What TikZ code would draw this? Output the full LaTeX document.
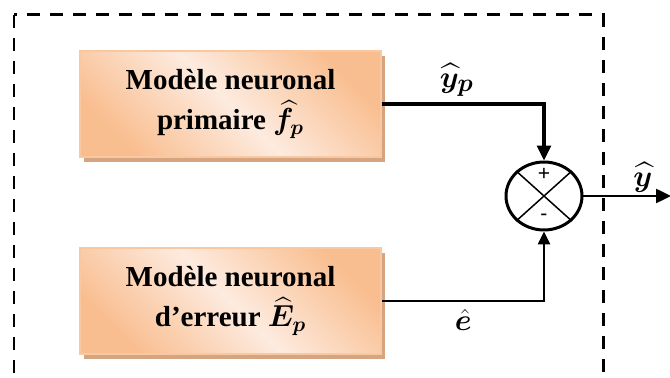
\documentclass[tikz,border=0pt]{standalone}
\usepackage{amsmath, amssymb, bm}
\usepackage{fontspec}
\setmainfont{Liberation Serif}
\setsansfont{Liberation Sans}
\usepackage{xcolor}
\usepackage{tikz}
\usetikzlibrary{positioning, arrows.meta, shapes.geometric, shadows}
\definecolor{peachdark}{HTML}{F9BE90}
\definecolor{peachlight}{HTML}{FDEBDF}
\definecolor{peachedge}{HTML}{F9C8A0}
\definecolor{boxshadow}{HTML}{D5A480}

\begin{document}
\begin{tikzpicture}[
    x=0.02cm, y=-0.02cm,
    >={Triangle[length=0.3cm, width=0.28cm]},
    block/.style={rectangle, draw=peachedge, line width=0.04cm,
        top color=peachdark, bottom color=peachdark, middle color=peachlight,
        shading angle=-45, minimum width=6.04cm, minimum height=2.12cm,
        align=center, font=\bfseries\fontsize{16.5}{23}\selectfont,
        drop shadow={shadow xshift=0.08cm, shadow yshift=-0.1cm, fill=boxshadow, opacity=1}},
    summer/.style={ellipse, draw, line width=0.06cm, minimum width=1.52cm,
        minimum height=1.36cm, inner sep=0pt},
    sign/.style={font=\sffamily\fontsize{12}{12}\selectfont, inner sep=0pt},
    sig/.style={font=\fontsize{19}{22}\selectfont, inner sep=1pt},
    dashframe/.style={draw, line width=0.06cm, dash pattern=on 0.26cm off 0.2cm}
]
\useasboundingbox (0,0) rectangle (670,378);

% dashed frame, open at the bottom
\draw[dashframe] (14,15) -- (14,420);
\draw[dashframe, dash phase=0.2cm] (14,15) -- (603,15) -- (603,420);

\node (prim) [block] at (230.5,104) {Modèle neuronal\\ primaire $\bm{\widehat{f}_p}$};
\node (err) [block, below=1.78cm of prim] {Modèle neuronal\\ d’erreur $\bm{\widehat{E}_p}$};

\node (sum) [summer] at (544,196) {};
\draw[line width=0.03cm] (sum.north west) -- (sum.south east)
    (sum.north east) -- (sum.south west);
\node (plus) [sign] at (544,174) {+};
\node (minus) [sign] at (544,217) {-};

\coordinate (out) at (671,196);

\draw[line width=0.065cm, ->] (prim.east) -| node[sig, pos=0.23, above=0.08cm] {$\bm{\widehat{y}_p}$} (sum.north);
\draw[line width=0.05cm, ->, >={Triangle[length=0.26cm, width=0.24cm]}] (err.east) -| node[sig, pos=0.25, below=0.1cm] {$\bm{\hat{e}}$} (sum.south);
\draw[line width=0.05cm, ->] (sum.east) -- node[sig, pos=0.68, above=0.02cm] {$\bm{\widehat{y}}$} (out);

\end{tikzpicture}
\end{document}
